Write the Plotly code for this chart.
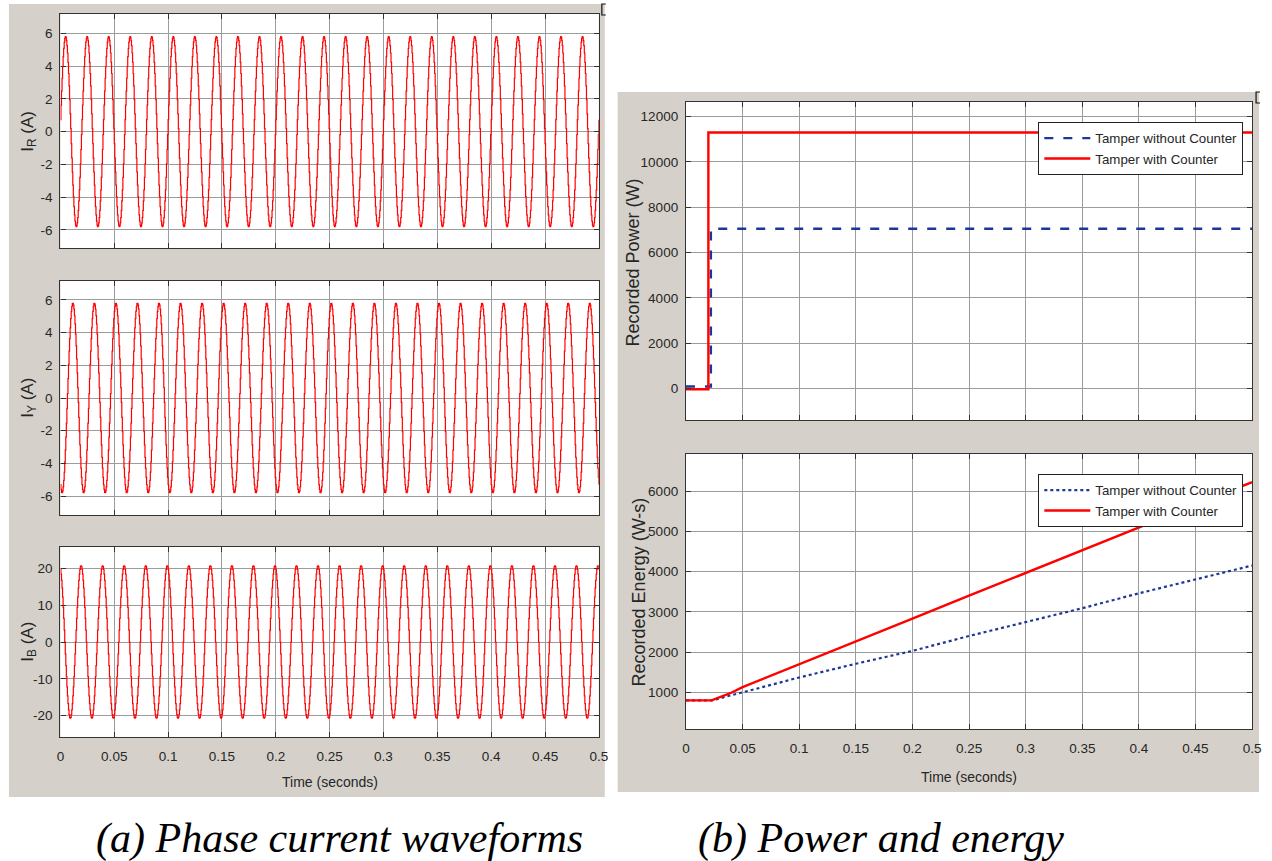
import numpy as np
import plotly.graph_objects as go

W, H = 1272, 861

# ---------------- data ----------------
sample_step = 0.0005         # s, stair-stepped sampled waveform
n_cycles = 25                # 50 Hz over 0.5 s

# first half (10 ms) of one cycle of each phase current, sampled every 0.5 ms (A);
# the second half of each cycle is the mirror image (negated)
ir_half = [0.73, 1.62, 2.47, 3.26, 3.97, 4.58, 5.08, 5.46, 5.70, 5.80,
           5.75, 5.57, 5.25, 4.80, 4.23, 3.55, 2.79, 1.96, 1.09, 0.18]
iy_half = [-5.29, -5.59, -5.77, -5.79, -5.68, -5.43, -5.04, -4.53, -3.90, -3.18,
           -2.39, -1.53, -0.64, 0.27, 1.18, 2.05, 2.87, 3.63, 4.29, 4.85]
ib_half = [19.69, 18.44, 16.75, 14.64, 12.17, 9.40, 6.40, 3.24, 0.0, -3.24,
           -6.40, -9.40, -12.17, -14.64, -16.75, -18.44, -19.69, -20.45, -20.7, -20.45]

# recorded power (W)
p_without_t = [0, 0.022, 0.5]
p_without_v = [80, 7050, 7050]
p_with_t = [0, 0.0198, 0.5]
p_with_v = [-40, 11300, 11300]

# recorded energy (W-s)
e_without_t = [0, 0.0227, 0.05, 0.1, 0.15, 0.2, 0.25, 0.3, 0.35, 0.4, 0.45, 0.5]
e_without_v = [800, 800, 1000, 1370, 1710, 2030, 2400, 2750, 3090, 3460, 3800, 4150]
e_with_t = [0, 0.0227, 0.03, 0.04, 0.05, 0.1, 0.15, 0.2, 0.25, 0.3, 0.35, 0.4, 0.45, 0.5]
e_with_v = [800, 800, 880, 990, 1130, 1690, 2260, 2830, 3400, 3970, 4530, 5100, 5660, 6220]

time_ticks = [0, 0.05, 0.1, 0.15, 0.2, 0.25, 0.3, 0.35, 0.4, 0.45, 0.5]
time_labels = ["0", "0.05", "0.1", "0.15", "0.2", "0.25", "0.3", "0.35", "0.4", "0.45", "0.5"]
iry_ticks = [-6, -4, -2, 0, 2, 4, 6]
iry_labels = ["-6", "-4", "-2", "0", "2", "4", "6"]
ib_ticks = [-20, -10, 0, 10, 20]
ib_labels = ["-20", "-10", "0", "10", "20"]
p_ticks = [0, 2000, 4000, 6000, 8000, 10000, 12000]
p_labels = ["0", "2000", "4000", "6000", "8000", "10000", "12000"]
e_ticks = [1000, 2000, 3000, 4000, 5000, 6000]
e_labels = ["1000", "2000", "3000", "4000", "5000", "6000"]

series_names = ["Tamper without Counter", "Tamper with Counter"]

# ---------------- build ----------------
def tile(half):
    cycle = list(half) + [-v for v in half]
    return cycle * n_cycles + [cycle[0]]
ir = tile(ir_half)
iy = tile(iy_half)
ib = tile(ib_half)
t = np.round(np.arange(len(ir)) * sample_step, 6)

def px(x): return x / W
def py(y): return 1 - y / H

RED = "#ff0000"
BLUE = "#1c3796"
FONT = "Liberation Sans, Arial, sans-serif"
TXT = "#262626"
GRID = "#9c9c9c"

fig = go.Figure()
wave_style = dict(color=RED, width=1.2, shape="hv")
fig.add_trace(go.Scatter(x=t, y=ir, mode="lines", line=wave_style, xaxis="x", yaxis="y", showlegend=False))
fig.add_trace(go.Scatter(x=t, y=iy, mode="lines", line=wave_style, xaxis="x2", yaxis="y2", showlegend=False))
fig.add_trace(go.Scatter(x=t, y=ib, mode="lines", line=wave_style, xaxis="x3", yaxis="y3", showlegend=False))

fig.add_trace(go.Scatter(x=p_without_t, y=p_without_v, mode="lines", name=series_names[0],
                         line=dict(color=BLUE, width=2.4, dash="9px,10px", shape="hv"),
                         xaxis="x4", yaxis="y4", legend="legend"))
fig.add_trace(go.Scatter(x=p_with_t, y=p_with_v, mode="lines", name=series_names[1],
                         line=dict(color=RED, width=2.4, shape="hv"),
                         xaxis="x4", yaxis="y4", legend="legend"))
fig.add_trace(go.Scatter(x=e_without_t, y=e_without_v, mode="lines", name=series_names[0],
                         line=dict(color=BLUE, width=2.2, dash="dot"),
                         xaxis="x5", yaxis="y5", legend="legend2"))
fig.add_trace(go.Scatter(x=e_with_t, y=e_with_v, mode="lines", name=series_names[1],
                         line=dict(color=RED, width=2.4),
                         xaxis="x5", yaxis="y5", legend="legend2"))

TICKFONT = dict(family=FONT, size=13.5, color=TXT)

def xax(dom, anchor, labels):
    return dict(domain=[px(dom[0]), px(dom[1])], anchor=anchor, range=[0, 0.5],
                tickvals=time_ticks, ticktext=time_labels, showticklabels=labels,
                showgrid=True, gridcolor=GRID, gridwidth=1, zeroline=False,
                showline=True, mirror="ticks", linecolor="#333333", linewidth=1.2,
                ticks="inside", ticklen=5, tickcolor="#333333",
                tickfont=TICKFONT, ticklabelstandoff=7)

def yax(dom, anchor, rng, ticks, labels):
    return dict(domain=[py(dom[1]), py(dom[0])], anchor=anchor, range=rng,
                tickvals=ticks, ticktext=labels, showgrid=True, gridcolor=GRID, gridwidth=1,
                zeroline=False, showline=True, mirror="ticks", linecolor="#333333", linewidth=1.2,
                ticks="inside", ticklen=5, tickcolor="#333333",
                tickfont=TICKFONT, ticklabelstandoff=4)

LX = (57, 601)
RX = (689, 1261)
legend_common = dict(bgcolor="white", bordercolor="#222222", borderwidth=1,
                     font=dict(family=FONT, size=13.3, color=TXT), xanchor="left", yanchor="top",
                     itemwidth=46, tracegroupgap=0)

fig.update_layout(
    width=W, height=H, margin=dict(l=0, r=0, t=0, b=0),
    paper_bgcolor="white", plot_bgcolor="white",
    xaxis=xax(LX, "y", False), yaxis=yax((14, 248), "x", [-7.1, 7.18], iry_ticks, iry_labels),
    xaxis2=xax(LX, "y2", False), yaxis2=yax((281, 515), "x2", [-7.15, 7.15], iry_ticks, iry_labels),
    xaxis3=xax(LX, "y3", True), yaxis3=yax((547, 737), "x3", [-25.8, 25.8], ib_ticks, ib_labels),
    xaxis4=xax(RX, "y4", False), yaxis4=yax((102, 420), "x4", [-1400, 12650], p_ticks, p_labels),
    xaxis5=xax(RX, "y5", True), yaxis5=yax((454, 729), "x5", [90, 6920], e_ticks, e_labels),
    legend=dict(x=px(1045), y=py(122), **legend_common),
    legend2=dict(x=px(1045), y=py(474), **legend_common),
)

shapes = [
    dict(type="rect", xref="paper", yref="paper", x0=px(5), x1=px(607), y0=py(797), y1=py(4),
         fillcolor="#d5d1ca", line=dict(width=0), layer="below"),
    dict(type="rect", xref="paper", yref="paper", x0=px(620), x1=px(1268), y0=py(792), y1=py(92),
         fillcolor="#d5d1ca", line=dict(width=0), layer="below"),
]
for (x0, x1), (y0, y1) in [(LX, (14, 248)), (LX, (281, 515)), (LX, (547, 737)),
                           (RX, (102, 420)), (RX, (454, 729))]:
    shapes.append(dict(type="rect", xref="paper", yref="paper", x0=px(x0), x1=px(x1),
                       y0=py(y1), y1=py(y0), fillcolor="white", line=dict(width=0), layer="below"))
for (bx, by) in [(604, 4), (1265, 92)]:
    shapes.append(dict(type="path", xref="paper", yref="paper",
                       path=f"M {px(bx+4)} {py(by)} L {px(bx)} {py(by)} L {px(bx)} {py(by+11)} L {px(bx+4)} {py(by+11)}",
                       line=dict(color="#111111", width=1.2)))
fig.update_layout(shapes=shapes)

ann = []
def ytitle(text, x, y, size):
    ann.append(dict(text=text, xref="paper", yref="paper", x=px(x), y=py(y), textangle=-90,
                    showarrow=False, xanchor="center", yanchor="middle",
                    font=dict(family=FONT, size=size, color=TXT)))
ytitle("I<sub>R</sub> (A)", 25, 131, 17)
ytitle("I<sub>Y</sub> (A)", 25, 398, 17)
ytitle("I<sub>B</sub> (A)", 25, 642, 17)
ytitle("Recorded Power (W)", 635, 263, 18)
ytitle("Recorded Energy (W-s)", 642, 592, 18)
for (x, y) in [(329, 782), (975, 777)]:
    ann.append(dict(text="Time (seconds)", xref="paper", yref="paper", x=px(x), y=py(y),
                    showarrow=False, xanchor="center", yanchor="middle",
                    font=dict(family=FONT, size=14, color=TXT)))
for text, x in [("(a) Phase current waveforms", 339), ("(b) Power and energy", 886)]:
    ann.append(dict(text=f"<i>{text}</i>", xref="paper", yref="paper", x=px(x), y=py(838),
                    showarrow=False, xanchor="center", yanchor="middle",
                    font=dict(family="Liberation Serif, Times New Roman, serif", size=42, color="black")))
fig.update_layout(annotations=ann)

fig.write_html("out.html")
